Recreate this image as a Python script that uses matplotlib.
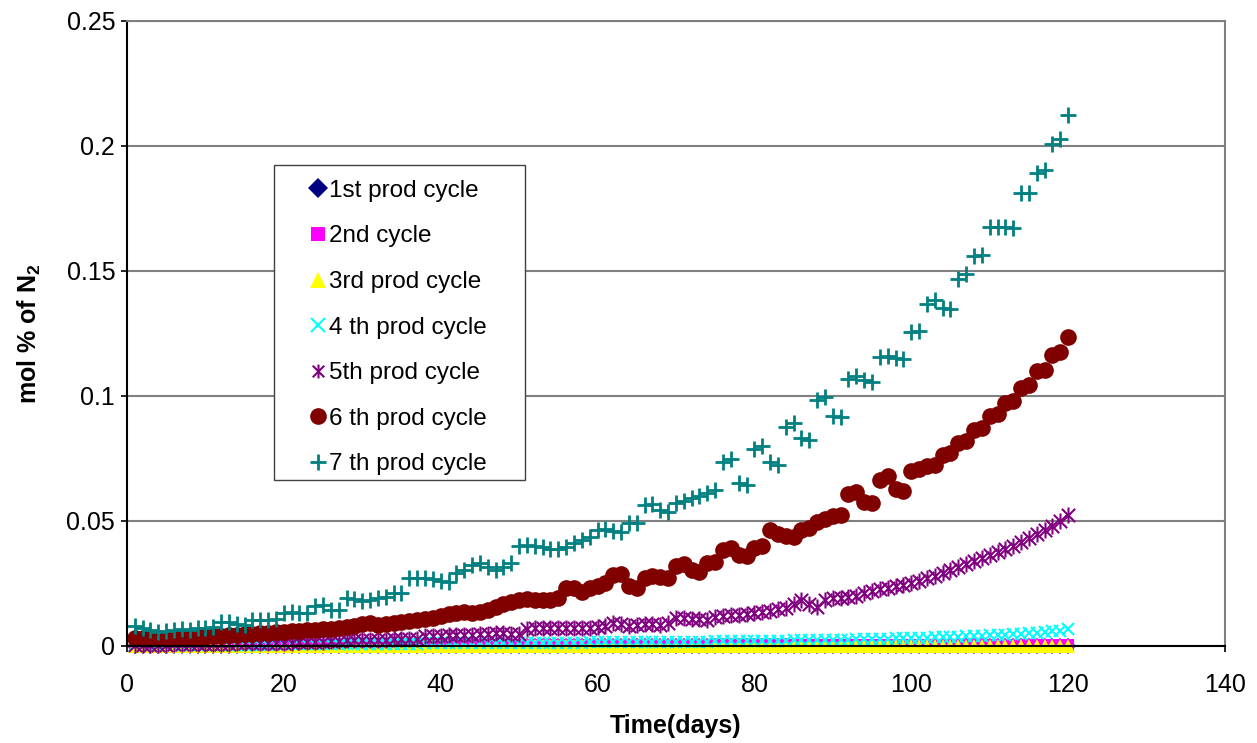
import matplotlib
matplotlib.use("Agg")
import matplotlib.pyplot as plt
import numpy as np
from matplotlib.path import Path
from matplotlib.patches import Rectangle

plt.rcParams['font.family'] = ['Liberation Sans', 'DejaVu Sans']
plt.rcParams['mathtext.fontset'] = 'custom'
plt.rcParams['mathtext.rm'] = 'Liberation Sans'
plt.rcParams['mathtext.bf'] = 'Liberation Sans:bold'

days = np.arange(1, 121)

labels = ['1st prod cycle', '2nd cycle', '3rd prod cycle', '4 th prod cycle',
          '5th prod cycle', '6 th prod cycle', '7 th prod cycle']

cycle1 = [0.0001, 0.0001, 0.0001, 0.0001, 0.0001, 0.0001, 0.0001, 0.0001, 0.0001, 0.0001,
          0.0001, 0.0001, 0.0001, 0.0001, 0.0001, 0.0001, 0.0001, 0.0001, 0.0001, 0.0001,
          0.0001, 0.0001, 0.0001, 0.0001, 0.0001, 0.0001, 0.0001, 0.0001, 0.0001, 0.0001,
          0.0001, 0.0001, 0.0001, 0.0001, 0.0001, 0.0001, 0.0001, 0.0001, 0.0001, 0.0001,
          0.0001, 0.0001, 0.0001, 0.0001, 0.0001, 0.0001, 0.0001, 0.0001, 0.0001, 0.0001,
          0.0001, 0.0001, 0.0001, 0.0001, 0.0001, 0.0001, 0.0001, 0.0001, 0.0001, 0.0001,
          0.0001, 0.0001, 0.0001, 0.0001, 0.0001, 0.0001, 0.0001, 0.0001, 0.0001, 0.0001,
          0.0001, 0.0001, 0.0001, 0.0001, 0.0001, 0.0001, 0.0001, 0.0001, 0.0001, 0.0001,
          0.0001, 0.0001, 0.0001, 0.0001, 0.0001, 0.0001, 0.0001, 0.0001, 0.0001, 0.0001,
          0.0001, 0.0001, 0.0001, 0.0001, 0.0001, 0.0001, 0.0001, 0.0001, 0.0001, 0.0001,
          0.0001, 0.0001, 0.0001, 0.0001, 0.0001, 0.0001, 0.0001, 0.0001, 0.0001, 0.0001,
          0.0001, 0.0001, 0.0001, 0.0001, 0.0001, 0.0001, 0.0001, 0.0001, 0.0001, 0.0001]

cycle2 = [0.0003, 0.0003, 0.0003, 0.0003, 0.0003, 0.0003, 0.0003, 0.0003, 0.0003, 0.0003,
          0.0003, 0.0003, 0.0003, 0.0003, 0.0003, 0.0003, 0.0003, 0.0003, 0.0003, 0.0003,
          0.0003, 0.0003, 0.0003, 0.0003, 0.0003, 0.0003, 0.0003, 0.0003, 0.0003, 0.0003,
          0.0004, 0.0004, 0.0004, 0.0004, 0.0004, 0.0004, 0.0004, 0.0004, 0.0004, 0.0004,
          0.0004, 0.0004, 0.0004, 0.0004, 0.0004, 0.0004, 0.0004, 0.0004, 0.0004, 0.0004,
          0.0004, 0.0004, 0.0004, 0.0004, 0.0004, 0.0004, 0.0004, 0.0004, 0.0004, 0.0004,
          0.0004, 0.0004, 0.0004, 0.0004, 0.0004, 0.0004, 0.0004, 0.0004, 0.0004, 0.0004,
          0.0005, 0.0005, 0.0005, 0.0005, 0.0005, 0.0005, 0.0005, 0.0005, 0.0005, 0.0005,
          0.0005, 0.0005, 0.0005, 0.0005, 0.0005, 0.0005, 0.0005, 0.0005, 0.0005, 0.0005,
          0.0005, 0.0005, 0.0005, 0.0005, 0.0005, 0.0005, 0.0005, 0.0005, 0.0005, 0.0005,
          0.0005, 0.0005, 0.0005, 0.0005, 0.0005, 0.0005, 0.0005, 0.0005, 0.0005, 0.0005,
          0.0005, 0.0005, 0.0005, 0.0005, 0.0005, 0.0005, 0.0005, 0.0005, 0.0005, 0.0005]

cycle3 = [0.0000, 0.0000, 0.0000, 0.0000, 0.0000, 0.0000, 0.0000, 0.0000, 0.0000, 0.0000,
          0.0000, 0.0000, 0.0000, 0.0000, 0.0000, 0.0000, 0.0000, 0.0000, 0.0000, 0.0000,
          0.0000, 0.0000, 0.0000, 0.0000, 0.0000, 0.0000, 0.0000, 0.0000, 0.0000, 0.0000,
          0.0000, 0.0000, 0.0000, 0.0000, 0.0000, 0.0000, 0.0000, 0.0000, 0.0000, 0.0000,
          0.0000, 0.0000, 0.0000, 0.0000, 0.0000, 0.0000, 0.0000, 0.0000, 0.0000, 0.0000,
          0.0000, 0.0000, 0.0000, 0.0000, 0.0000, 0.0000, 0.0000, 0.0000, 0.0000, 0.0000,
          0.0000, 0.0000, 0.0000, 0.0000, 0.0000, 0.0000, 0.0000, 0.0000, 0.0000, 0.0000,
          0.0000, 0.0000, 0.0000, 0.0000, 0.0000, 0.0000, 0.0000, 0.0000, 0.0000, 0.0000,
          0.0000, 0.0000, 0.0000, 0.0000, 0.0000, 0.0000, 0.0000, 0.0000, 0.0000, 0.0000,
          0.0000, 0.0000, 0.0000, 0.0000, 0.0000, 0.0000, 0.0000, 0.0000, 0.0000, 0.0000,
          0.0000, 0.0000, 0.0000, 0.0000, 0.0000, 0.0000, 0.0000, 0.0000, 0.0000, 0.0000,
          0.0000, 0.0000, 0.0000, 0.0000, 0.0000, 0.0000, 0.0000, 0.0000, 0.0000, 0.0000]

cycle4 = [0.0002, 0.0002, 0.0002, 0.0003, 0.0003, 0.0003, 0.0003, 0.0003, 0.0004, 0.0004,
          0.0004, 0.0004, 0.0004, 0.0005, 0.0005, 0.0005, 0.0005, 0.0005, 0.0006, 0.0006,
          0.0006, 0.0006, 0.0006, 0.0007, 0.0007, 0.0007, 0.0007, 0.0008, 0.0008, 0.0008,
          0.0008, 0.0008, 0.0009, 0.0009, 0.0009, 0.0009, 0.0009, 0.0010, 0.0010, 0.0010,
          0.0010, 0.0010, 0.0011, 0.0011, 0.0011, 0.0011, 0.0011, 0.0012, 0.0012, 0.0012,
          0.0012, 0.0012, 0.0012, 0.0013, 0.0013, 0.0013, 0.0013, 0.0013, 0.0014, 0.0014,
          0.0014, 0.0014, 0.0014, 0.0015, 0.0015, 0.0015, 0.0015, 0.0016, 0.0016, 0.0016,
          0.0016, 0.0017, 0.0017, 0.0017, 0.0018, 0.0018, 0.0018, 0.0019, 0.0019, 0.0019,
          0.0020, 0.0020, 0.0021, 0.0021, 0.0022, 0.0022, 0.0023, 0.0023, 0.0024, 0.0024,
          0.0025, 0.0025, 0.0026, 0.0027, 0.0027, 0.0028, 0.0029, 0.0030, 0.0030, 0.0031,
          0.0032, 0.0033, 0.0034, 0.0035, 0.0036, 0.0037, 0.0038, 0.0040, 0.0041, 0.0042,
          0.0044, 0.0045, 0.0047, 0.0049, 0.0051, 0.0053, 0.0055, 0.0058, 0.0061, 0.0066]

cycle5 = [0.0004, 0.0004, 0.0005, 0.0005, 0.0005, 0.0006, 0.0006, 0.0006, 0.0007, 0.0007,
          0.0008, 0.0008, 0.0008, 0.0010, 0.0011, 0.0011, 0.0012, 0.0012, 0.0012, 0.0013,
          0.0013, 0.0014, 0.0014, 0.0015, 0.0015, 0.0020, 0.0021, 0.0022, 0.0022, 0.0023,
          0.0024, 0.0024, 0.0025, 0.0026, 0.0026, 0.0027, 0.0028, 0.0038, 0.0038, 0.0040,
          0.0042, 0.0044, 0.0044, 0.0045, 0.0046, 0.0048, 0.0050, 0.0050, 0.0048, 0.0046,
          0.0068, 0.0070, 0.0070, 0.0071, 0.0072, 0.0072, 0.0072, 0.0072, 0.0073, 0.0076,
          0.0080, 0.0090, 0.0086, 0.0078, 0.0082, 0.0088, 0.0086, 0.0085, 0.0090, 0.0110,
          0.0110, 0.0108, 0.0106, 0.0104, 0.0114, 0.0118, 0.0122, 0.0124, 0.0128, 0.0132,
          0.0136, 0.0140, 0.0146, 0.0152, 0.0166, 0.0182, 0.0168, 0.0156, 0.0182, 0.0190,
          0.0192, 0.0194, 0.0200, 0.0210, 0.0218, 0.0226, 0.0232, 0.0238, 0.0244, 0.0252,
          0.0260, 0.0270, 0.0280, 0.0292, 0.0304, 0.0316, 0.0326, 0.0338, 0.0350, 0.0362,
          0.0374, 0.0388, 0.0400, 0.0414, 0.0430, 0.0446, 0.0462, 0.0480, 0.0498, 0.0524]

cycle6 = [0.0032, 0.0030, 0.0030, 0.0031, 0.0032, 0.0032, 0.0033, 0.0034, 0.0035, 0.0036,
          0.0038, 0.0040, 0.0042, 0.0044, 0.0046, 0.0048, 0.0050, 0.0052, 0.0054, 0.0056,
          0.0058, 0.0060, 0.0062, 0.0064, 0.0066, 0.0068, 0.0070, 0.0074, 0.0080, 0.0088,
          0.0092, 0.0084, 0.0086, 0.0090, 0.0094, 0.0100, 0.0104, 0.0108, 0.0112, 0.0120,
          0.0128, 0.0132, 0.0134, 0.0132, 0.0136, 0.0144, 0.0156, 0.0166, 0.0176, 0.0184,
          0.0188, 0.0184, 0.0182, 0.0184, 0.0192, 0.0230, 0.0232, 0.0216, 0.0232, 0.0240,
          0.0250, 0.0282, 0.0286, 0.0240, 0.0230, 0.0272, 0.0278, 0.0276, 0.0270, 0.0320,
          0.0328, 0.0302, 0.0296, 0.0330, 0.0336, 0.0384, 0.0390, 0.0362, 0.0360, 0.0392,
          0.0400, 0.0464, 0.0448, 0.0440, 0.0436, 0.0464, 0.0472, 0.0496, 0.0508, 0.0518,
          0.0524, 0.0608, 0.0616, 0.0576, 0.0572, 0.0664, 0.0680, 0.0626, 0.0620, 0.0698,
          0.0708, 0.0718, 0.0724, 0.0764, 0.0772, 0.0812, 0.0820, 0.0864, 0.0872, 0.0918,
          0.0928, 0.0972, 0.0980, 0.1032, 0.1044, 0.1098, 0.1104, 0.1164, 0.1176, 0.1236]

cycle7 = [0.0080, 0.0072, 0.0062, 0.0055, 0.0058, 0.0064, 0.0068, 0.0065, 0.0072, 0.0072,
          0.0074, 0.0096, 0.0096, 0.0086, 0.0085, 0.0104, 0.0104, 0.0104, 0.0108, 0.0132,
          0.0136, 0.0132, 0.0130, 0.0160, 0.0162, 0.0144, 0.0144, 0.0190, 0.0188, 0.0180,
          0.0184, 0.0190, 0.0196, 0.0210, 0.0212, 0.0272, 0.0272, 0.0270, 0.0268, 0.0260,
          0.0256, 0.0292, 0.0304, 0.0322, 0.0330, 0.0316, 0.0304, 0.0316, 0.0330, 0.0400,
          0.0404, 0.0400, 0.0394, 0.0386, 0.0388, 0.0396, 0.0410, 0.0424, 0.0436, 0.0464,
          0.0466, 0.0458, 0.0456, 0.0490, 0.0492, 0.0564, 0.0568, 0.0544, 0.0536, 0.0570,
          0.0578, 0.0590, 0.0600, 0.0612, 0.0624, 0.0736, 0.0748, 0.0652, 0.0644, 0.0788,
          0.0800, 0.0734, 0.0724, 0.0874, 0.0890, 0.0830, 0.0822, 0.0984, 0.0996, 0.0920,
          0.0916, 0.1068, 0.1080, 0.1062, 0.1056, 0.1156, 0.1160, 0.1150, 0.1148, 0.1256,
          0.1260, 0.1368, 0.1384, 0.1350, 0.1348, 0.1468, 0.1488, 0.1560, 0.1564, 0.1676,
          0.1676, 0.1676, 0.1670, 0.1810, 0.1812, 0.1890, 0.1904, 0.2008, 0.2028, 0.2124]

# excel style asterisk: an x with a vertical bar through it
star = Path([(-1, -1), (1, 1), (-1, 1), (1, -1), (0, -1.2), (0, 1.2)],
            [Path.MOVETO, Path.LINETO, Path.MOVETO, Path.LINETO, Path.MOVETO, Path.LINETO])

series = [cycle1, cycle2, cycle3, cycle4, cycle5, cycle6, cycle7]
styles = [
    dict(marker='D', color='#000080', ms=8, mew=0),
    dict(marker='s', color='#FF00FF', ms=8, mew=0),
    dict(marker='^', color='#FFFF00', ms=10, mew=0),
    dict(marker='x', color='#00FFFF', ms=9, mew=1.5),
    dict(marker=star, color='#800080', ms=11.5, mew=1.5),
    dict(marker='o', color='#800000', ms=12, mew=0),
    dict(marker='+', color='#008080', ms=11.5, mew=2),
]
# marker sizes used in the legend box
legend_ms = [10, 10, 12, 10, 10, 12, 11]

fig = plt.figure(figsize=(12.57, 7.43), dpi=100)
ax = fig.add_axes([0.1010, 0.1306, 0.8735, 0.8412])

handles = []
for vals, lab, st in zip(series, labels, styles):
    h, = ax.plot(days, vals, linestyle='none', marker=st['marker'], color=st['color'],
                 markersize=st['ms'], markeredgewidth=st['mew'], label=lab, clip_on=False)
    handles.append(h)

ax.set_xlim(0, 140)
ax.set_ylim(0, 0.25)
ax.set_xticks([0, 20, 40, 60, 80, 100, 120, 140])
ax.set_yticks([0, 0.05, 0.1, 0.15, 0.2, 0.25])
ax.set_yticklabels(['0', '0.05', '0.1', '0.15', '0.2', '0.25'])
ax.tick_params(axis='both', labelsize=18, direction='out', length=4.5, width=1.2)
ax.tick_params(axis='x', pad=15)
ax.tick_params(axis='y', pad=4)
ax.yaxis.grid(True, color='#808080', linewidth=1.5)
ax.set_axisbelow(True)

for s in ['top', 'right']:
    ax.spines[s].set_color('#808080')
    ax.spines[s].set_linewidth(1.5)
for s in ['left', 'bottom']:
    ax.spines[s].set_color('black')
    ax.spines[s].set_linewidth(1.5)

ax.set_xlabel('Time(days)', fontsize=18, fontweight='bold', labelpad=12)
ax.set_ylabel(r'mol % of N$_\mathbf{2}$', fontsize=18, fontweight='bold', labelpad=17)

# legend box drawn by hand so it can be wider than its contents
ax.add_patch(Rectangle((0.134, 0.2656), 0.2285, 0.504, transform=ax.transAxes,
                       facecolor='white', edgecolor='#404040', linewidth=1.0, zorder=5))
leg = ax.legend(handles=handles, loc='upper left', bbox_to_anchor=(0.152, 0.773),
                frameon=False, fontsize=17.5, handlelength=0.6, handletextpad=0.15,
                labelspacing=0.97, borderpad=0.2)
for lh, ms in zip(leg.legend_handles, legend_ms):
    lh.set_markersize(ms)
leg.set_zorder(6)

fig.savefig('out.png', dpi=100)
